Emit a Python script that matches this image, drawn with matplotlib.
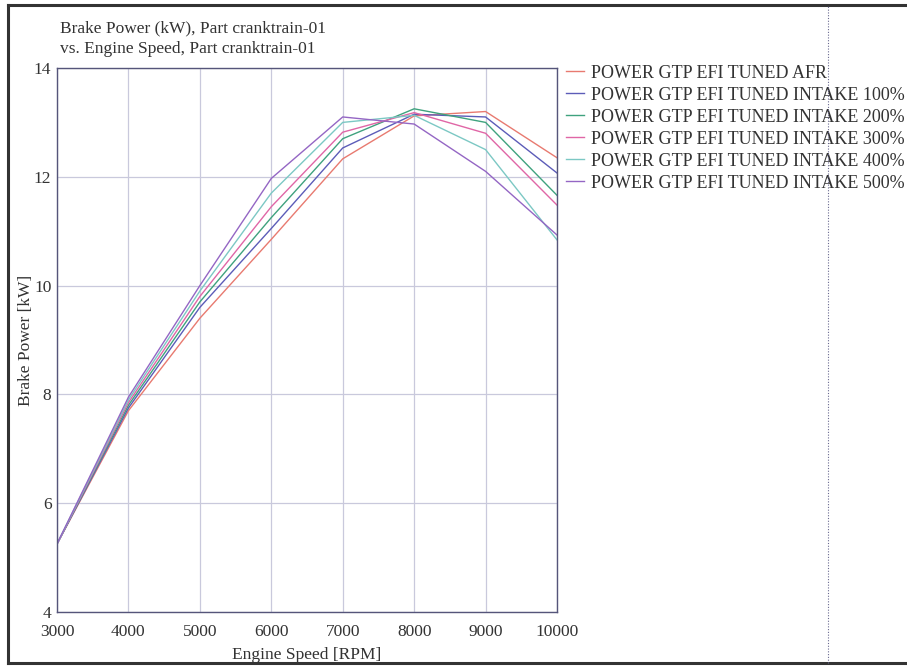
import matplotlib.pyplot as plt
from matplotlib.lines import Line2D

plt.rcParams.update({
    "font.family": ["Liberation Serif", "DejaVu Serif"],
    "font.size": 12,
})

rpm = [3000, 4000, 5000, 6000, 7000, 8000, 9000, 10000]

power_afr = [5.25, 7.70, 9.40, 10.85, 12.33, 13.12, 13.20, 12.35]
power_100 = [5.25, 7.75, 9.60, 11.05, 12.53, 13.15, 13.10, 12.07]
power_200 = [5.25, 7.80, 9.70, 11.25, 12.70, 13.25, 13.00, 11.66]
power_300 = [5.25, 7.85, 9.80, 11.45, 12.82, 13.18, 12.80, 11.48]
power_400 = [5.25, 7.90, 9.90, 11.70, 13.00, 13.13, 12.50, 10.84]
power_500 = [5.25, 7.95, 10.00, 11.97, 13.10, 12.97, 12.10, 10.93]

labels = [
    "POWER GTP EFI TUNED AFR",
    "POWER GTP EFI TUNED INTAKE 100%",
    "POWER GTP EFI TUNED INTAKE 200%",
    "POWER GTP EFI TUNED INTAKE 300%",
    "POWER GTP EFI TUNED INTAKE 400%",
    "POWER GTP EFI TUNED INTAKE 500%",
]
series = [power_afr, power_100, power_200, power_300, power_400, power_500]
colors = ["#e87a70", "#5c5cb8", "#3fa27e", "#e066a6", "#7cc8c4", "#9466c4"]

fig = plt.figure(figsize=(9.07, 6.68), dpi=100)
ax = fig.add_axes([57 / 907, 1 - 612 / 668, 500 / 907, 544 / 668])

for vals, lab, col in zip(series, labels, colors):
    ax.plot(rpm, vals, color=col, lw=1.0, label=lab)

ax.set_xlim(3000, 10000)
ax.set_ylim(4, 14)
ax.set_xticks(rpm)
ax.set_yticks([4, 6, 8, 10, 12, 14])
ax.grid(True, color="#c9c9dc", lw=0.9)
ax.set_axisbelow(True)
for s in ax.spines.values():
    s.set_color("#55557a")
    s.set_linewidth(1.0)
ax.tick_params(length=0, labelsize=12.5, colors="#333333")
ax.tick_params(axis="x", pad=9)
ax.tick_params(axis="y", pad=4)

ax.set_xlabel("Engine Speed [RPM]", fontsize=12.5, color="#333333", labelpad=5)
ax.set_ylabel("Brake Power [kW]", fontsize=12.5, color="#333333", labelpad=0)

fig.text(60 / 907, 1 - 20 / 668,
         "Brake Power (kW), Part cranktrain-01\nvs. Engine Speed, Part cranktrain-01",
         ha="left", va="top", fontsize=12.5, color="#333333", linespacing=1.45)

leg = ax.legend(loc="upper left", bbox_to_anchor=(1.0, 1.023), frameon=False,
                fontsize=13, handlelength=1.0, handletextpad=0.4,
                labelspacing=0.28, borderaxespad=0.5, borderpad=0)
for t in leg.get_texts():
    t.set_color("#333333")

# outer frame and dotted divider
fig.add_artist(Line2D([8 / 907, 8 / 907], [1 - 663 / 668, 1 - 5 / 668],
                      color="#333333", lw=2.2))
fig.add_artist(Line2D([8 / 907, 1], [1 - 5 / 668, 1 - 5 / 668],
                      color="#333333", lw=2.2))
fig.add_artist(Line2D([8 / 907, 1], [1 - 663 / 668, 1 - 663 / 668],
                      color="#333333", lw=2.2))
fig.add_artist(Line2D([828 / 907, 828 / 907], [1 - 663 / 668, 1 - 5 / 668],
                      color="#6a6a90", lw=0.8, ls=(0, (1, 1.5))))

fig.savefig("out.png", dpi=100)
